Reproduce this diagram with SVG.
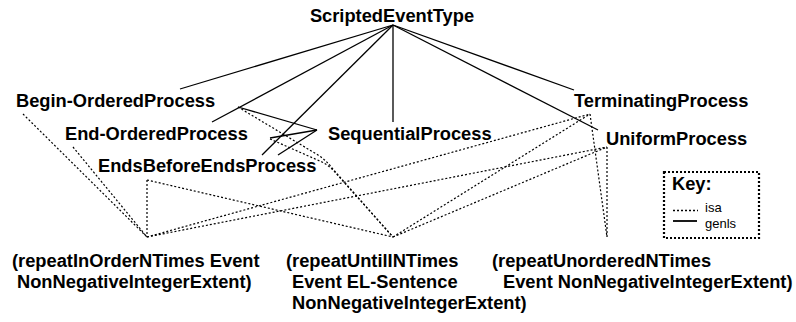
<svg xmlns="http://www.w3.org/2000/svg" width="796" height="322" viewBox="0 0 796 322">
<style>
.lbl{font-family:"Liberation Sans",Arial,sans-serif;font-weight:bold;font-size:18.3px;fill:#000}
.key{font-family:"Liberation Sans",Arial,sans-serif;font-size:13px;fill:#000}
.genls{stroke:#000;stroke-width:1.3;fill:none}
.isa{stroke:#000;stroke-width:1.2;fill:none;stroke-dasharray:2 2}
</style>
<rect width="796" height="322" fill="#fff"/>
<g id="connectors">
<path class="genls" d="M393,25 L180,89"/>
<path class="genls" d="M393,25 L212,122"/>
<path class="genls" d="M393,25 L262,155"/>
<path class="genls" d="M393,25 L393,122"/>
<path class="genls" d="M393,25 L574,90"/>
<path class="genls" d="M393,25 L598,130"/>
<path class="genls" d="M317,130 L238,107"/>
<path class="genls" d="M317,130 L270,138"/>
<path class="genls" d="M317,130 L278,155"/>
<path class="isa" d="M23,114 L147,237"/>
<path class="isa" d="M73,147 L147,237"/>
<path class="isa" d="M147,180 L147,237"/>
<path class="isa" d="M147,180 L393,237"/>
<path class="isa" d="M147,237 L590,114"/>
<path class="isa" d="M147,237 L607,147"/>
<path class="isa" d="M238,107 L318,155 Q326,160 332,168 L393,237"/>
<path class="isa" d="M270,139 L322,162 Q328,165 333,170 L393,237"/>
<path class="isa" d="M393,237 L590,114"/>
<path class="isa" d="M393,237 L607,147"/>
<path class="isa" d="M590,114 L607,237"/>
<path class="isa" d="M607,147 L607,237"/>
</g>
<g id="ScriptedEventType"><text class="lbl" x="392" y="22" text-anchor="middle">ScriptedEventType</text></g>
<g id="Begin-OrderedProcess"><text class="lbl" x="16" y="107">Begin-OrderedProcess</text></g>
<g id="End-OrderedProcess"><text class="lbl" x="65" y="140">End-OrderedProcess</text></g>
<g id="EndsBeforeEndsProcess"><text class="lbl" x="98" y="172">EndsBeforeEndsProcess</text></g>
<g id="SequentialProcess"><text class="lbl" x="328" y="140">SequentialProcess</text></g>
<g id="TerminatingProcess"><text class="lbl" x="574" y="107">TerminatingProcess</text></g>
<g id="UniformProcess"><text class="lbl" x="606" y="145">UniformProcess</text></g>
<g id="repeatInOrderNTimes"><text class="lbl"><tspan x="12" y="267">(repeatInOrderNTimes Event</tspan><tspan x="17" y="288">NonNegativeIntegerExtent)</tspan></text></g>
<g id="repeatUntilINTimes"><text class="lbl"><tspan x="286" y="267">(repeatUntilINTimes</tspan><tspan x="292" y="288">Event EL-Sentence</tspan><tspan x="292" y="309">NonNegativeIntegerExtent)</tspan></text></g>
<g id="repeatUnorderedNTimes"><text class="lbl"><tspan x="492" y="267">(repeatUnorderedNTimes</tspan><tspan x="503" y="288">Event NonNegativeIntegerExtent)</tspan></text></g>
<g id="key">
<rect x="664" y="172" width="95" height="66" fill="none" stroke="#000" stroke-width="2.2" stroke-dasharray="2 2"/>
<text class="lbl" x="672" y="190">Key:</text>
<line x1="673" y1="210.5" x2="698" y2="210.5" stroke="#000" stroke-width="1.5" stroke-dasharray="2 2"/>
<text class="key" x="705" y="212">isa</text>
<line x1="673" y1="221" x2="697" y2="221" stroke="#000" stroke-width="1.8"/>
<text class="key" x="705" y="227.5">genls</text>
</g>
</svg>
